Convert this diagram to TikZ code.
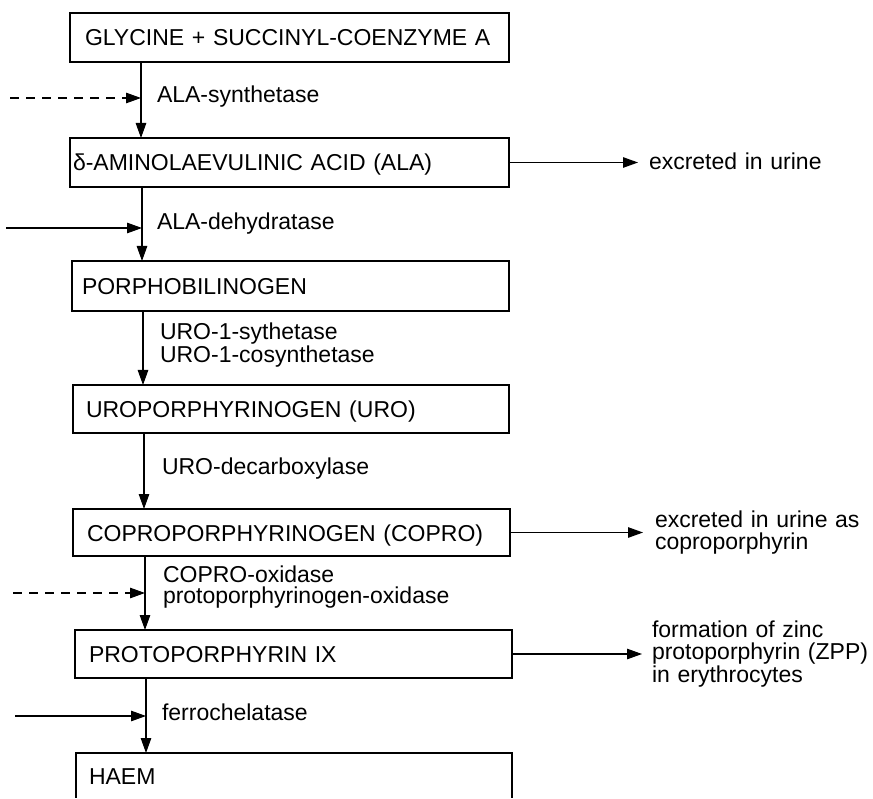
\documentclass[tikz,border=0pt]{standalone}
\usepackage{fontspec}
\setmainfont{Liberation Sans}
\usetikzlibrary{arrows.meta}
\begin{document}
\begin{tikzpicture}[x=1pt,y=-1pt,
  every node/.style={font=\fontsize{23}{22}\selectfont, outer sep=0pt},
  box/.style={draw, line width=1.3pt, rectangle, align=left, text height=17pt, text depth=0pt, inner ysep=0pt},
  conn/.style={line width=1.1pt, -{Triangle[length=15pt,width=10.5pt]}},
  dashconn/.style={conn, dash pattern=on 9pt off 7pt},
  lbl/.style={anchor=base west, align=left, inner sep=0pt, text width=330pt},
  outtext/.style={anchor=base west, align=left, inner sep=0pt, text width=220pt, font=\fontsize{23}{22.5}\selectfont}]
\useasboundingbox (0,0) rectangle (873,799);
\clip (0,0) rectangle (873,797.5);

% boxes
\node[box, minimum width=439pt, minimum height=49pt, text width=409pt, inner xsep=15pt] (B1) at (289.5,37.5) {GLYCINE + SUCCINYL-COENZYME A};
\node[box, minimum width=439pt, minimum height=49pt, text width=433pt, inner xsep=3pt] (B2) at (289.5,162.5) {δ-AMINOLAEVULINIC ACID (ALA)};
\node[box, minimum width=437pt, minimum height=50pt, text width=417pt, inner xsep=10pt] (B3) at (290.5,286) {PORPHOBILINOGEN};
\node[box, minimum width=436pt, minimum height=48pt, text width=410pt, inner xsep=13pt] (B4) at (291,409) {UROPORPHYRINOGEN (URO)};
\node[box, minimum width=437pt, minimum height=47pt, text width=409pt, inner xsep=14pt] (B5) at (291.5,532.5) {COPROPORPHYRINOGEN (COPRO)};
\node[box, minimum width=437pt, minimum height=48pt, text width=409pt, inner xsep=14pt] (B6) at (293.5,654) {PROTOPORPHYRIN IX};
\node[box, minimum width=436pt, text width=410pt, inner xsep=13pt, text depth=40pt, inner ysep=14.5pt] (B7) at (294,796) {HAEM};

% vertical path
\coordinate (v1) at ([xshift=71pt]B1.south west);
\coordinate (v2) at ([xshift=72pt]B2.south west);
\coordinate (v3) at ([xshift=71pt]B3.south west);
\coordinate (v4) at ([xshift=71pt]B4.south west);
\coordinate (v5) at ([xshift=72pt]B5.south west);
\coordinate (v6) at ([xshift=71pt]B6.south west);
\draw[conn] (v1) -- (v1 |- B2.north);
\draw[conn] (v2) -- (v2 |- B3.north);
\draw[conn] (v3) -- (v3 |- B4.north);
\draw[conn] (v4) -- (v4 |- B5.north);
\draw[conn] (v5) -- (v5 |- B6.north);
\draw[conn] (v6) -- (v6 |- B7.north);

% enzyme labels
\node[lbl] (L1) at (157,103) {ALA-synthetase};
\node[lbl] (L2) at (157,230) {ALA-dehydratase};
\node[lbl, font=\fontsize{23}{23}\selectfont] (L3) at (160,340) {URO-1-sythetase\\URO-1-cosynthetase};
\node[lbl] (L4) at (162,475) {URO-decarboxylase};
\node[lbl, font=\fontsize{23}{21.5}\selectfont] (L5) at (163,582) {COPRO-oxidase\\protoporphyrinogen-oxidase};
\node[lbl] (L6) at (162,720) {ferrochelatase};

% inputs from the left
\coordinate (i1) at (10,98);
\coordinate (i2) at (6,228);
\coordinate (i3) at (13,593);
\coordinate (i4) at (15,716);
\draw[dashconn] (i1) -- (i1 -| v1);
\draw[conn] (i2) -- (i2 -| v2);
\draw[dashconn] (i3) -- (i3 -| v5);
\draw[conn] (i4) -- (i4 -| v6);

% outputs to the right
\node[outtext] (O1) at (649,170) {excreted in urine};
\node[outtext] (O2) at (655,527) {excreted in urine as\\coproporphyrin};
\node[outtext] (O3) at (652,637) {formation of zinc\\protoporphyrin (ZPP)\\in erythrocytes};
\draw[conn] (B2.east) -- ([xshift=-11pt]B2.east -| O1.west);
\draw[conn] (B5.east) -- ([xshift=-12pt]B5.east -| O2.west);
\draw[conn] (B6.east) -- ([xshift=-10pt]B6.east -| O3.west);
\end{tikzpicture}
\end{document}
